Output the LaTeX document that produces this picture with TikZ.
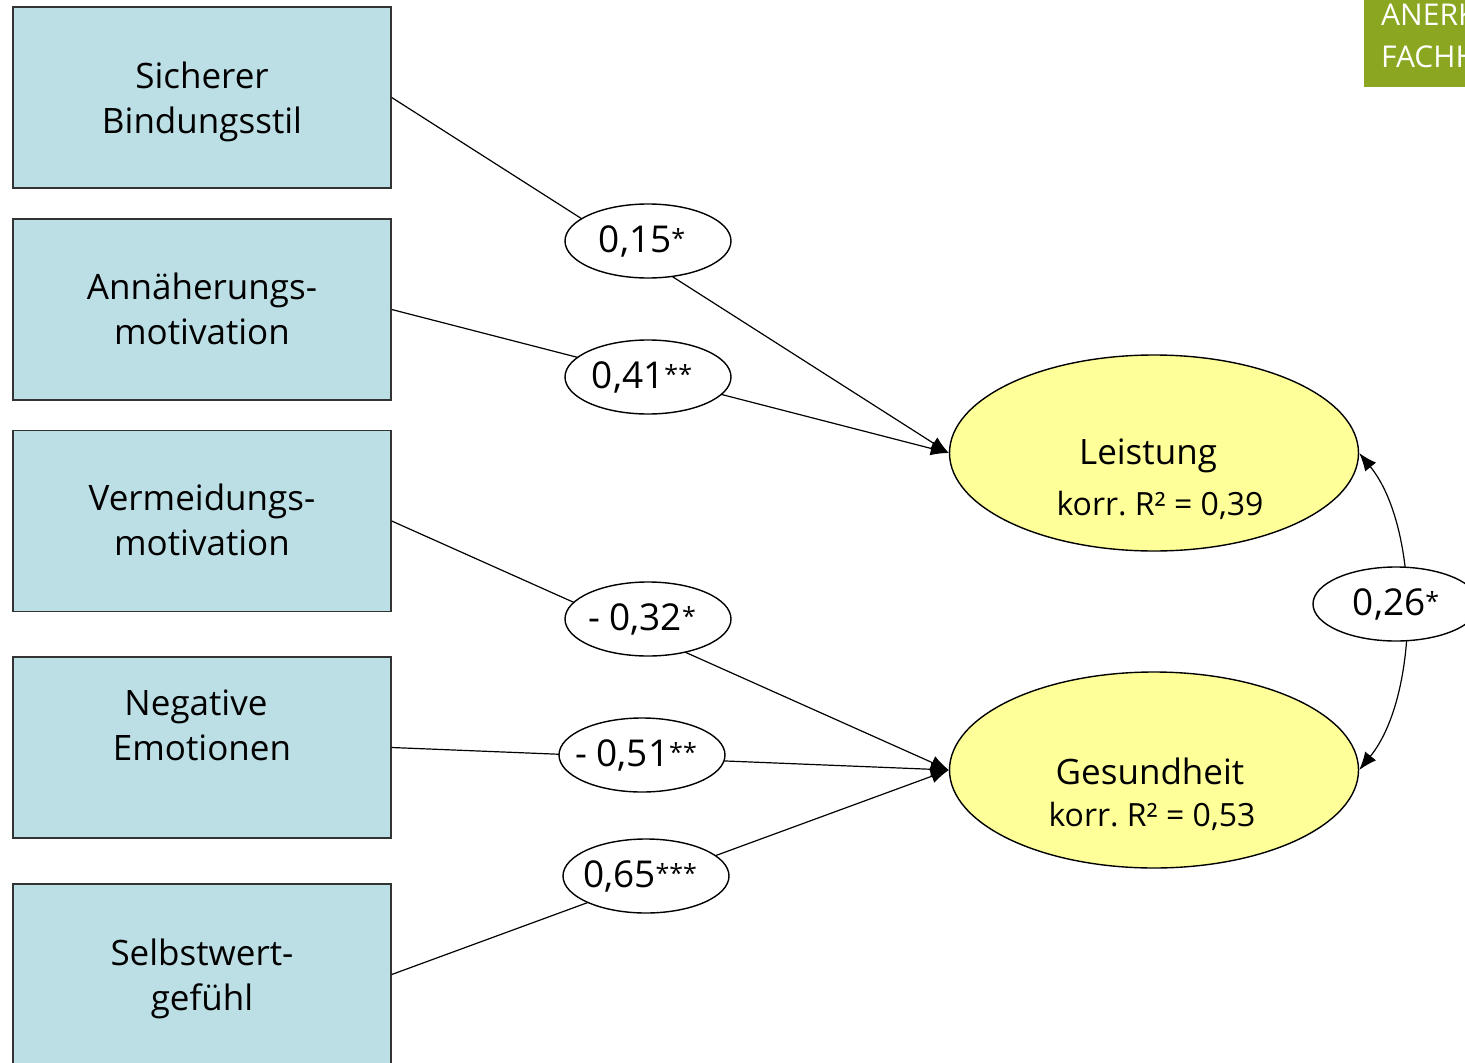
\documentclass[tikz,border=0pt]{standalone}
\usepackage{fontspec}
\setmainfont{Open Sans}
\usetikzlibrary{positioning,arrows.meta,shapes.geometric}
\definecolor{boxfill}{HTML}{BCDFE5}
\definecolor{latfill}{HTML}{FFFF99}
\definecolor{logo}{HTML}{8BA620}
% significance stars, small and raised
\newcommand{\sig}[1]{\raisebox{5pt}{\fontsize{25}{25}\selectfont#1}}
% coefficient text that never widens its ellipse; sits a little left of centre
\newcommand{\cval}[3][12pt]{\makebox[0pt][c]{#2\sig{#3}\hspace*{#1}}}

\begin{document}
\begin{tikzpicture}[x=1pt,y=-1pt,font=\fontsize{35}{45}\selectfont,
    >={Latex[length=18pt,width=14pt]},
    predbox/.style={draw=black!80,fill=boxfill,line width=1.4pt,minimum width=378pt,
      minimum height=181pt,inner sep=0pt},
    boxlab/.style={align=center,yshift=-4pt},
    latent/.style={ellipse,draw,fill=latfill,line width=1.4pt,minimum width=409pt,
      minimum height=196pt,inner sep=0pt},
    rsq/.style={font=\fontsize{32}{40}\selectfont},
    coef/.style={ellipse,draw,fill=white,line width=1.4pt,minimum width=166pt,
      minimum height=74pt,inner sep=0pt,font=\fontsize{37}{40}\selectfont},
    effect/.style={line width=1.2pt,->}]
    % frame is the pixel grid of the slide, y down
    \useasboundingbox (0,0) rectangle (1465,1063);
    \clip (0,0) rectangle (1465,1063);

    % the predictors
    \node[predbox] (bind) at (202,97.5) {};
    \node[predbox] (annae) at (202,309.5) {};
    \node[predbox] (verm) at (202,521) {};
    \node[predbox] (negemo) at (202,747.5) {};
    \node[predbox] (selbst) at (202,974.5) {};
    % labels without descenders on the last line sit a bit higher by hand
    \node[boxlab] (bindlab) at (bind) {Sicherer\\Bindungsstil};
    \node[boxlab] (annaelab) at (202,304.5) {Annäherungs-\\motivation};
    \node[boxlab] (vermlab) at (202,516) {Vermeidungs-\\motivation};
    \node[boxlab] (negemolab) at (202,721) {Negative\hspace*{12pt}\\Emotionen};
    \node[boxlab] (selbstlab) at (selbst) {Selbstwert-\\gefühl};

    % the outcomes
    \node[latent] (leist) at (1154,453) {};
    \node[latent] (gesund) at (1154,770) {};
    \node (leistlab) at (1148,456) {Leistung};
    \node[rsq] (leistrsq) at (1160,505) {korr.\ R² = 0,39};
    \node (gesundlab) at (1150,771) {Gesundheit};
    \node[rsq] (gesundrsq) at (1152,816) {korr.\ R² = 0,53};

    % paths first, the coefficients sit on top of them
    \draw[effect] (bind.east) -- (leist.west);
    \draw[effect] (annae.east) -- (leist.west);
    \draw[effect] (verm.east) -- (gesund.west);
    \draw[effect] (negemo.east) -- (gesund.west);
    \draw[effect] (selbst.east) -- (gesund.west);
    \draw[line width=1.2pt,<->] (leist.east) .. controls +(61,75) and +(61,-75) .. (gesund.east);

    \node[coef] (cbind) at (648,241) {\cval{0,15}{*}};
    \node[coef] (cannae) at (648,377) {\cval{0,41}{**}};
    \node[coef] (cverm) at (648,619) {\cval{- 0,32}{*}};
    \node[coef] (cnegemo) at (642,755) {\cval{- 0,51}{**}};
    \node[coef] (cselbst) at (646,876) {\cval{0,65}{***}};
    \node[coef] (ccorr) at (1396,604) {\cval[0pt]{0,26}{*}};

    % logo corner, cut by the frame
    \fill[logo] (1364,0) rectangle (1470,87);
    \node[text=white,anchor=base west,inner sep=0pt,font=\fontsize{30}{36}\selectfont] (logoa) at (1381,25) {ANERK};
    \node[text=white,anchor=base west,inner sep=0pt,font=\fontsize{30}{36}\selectfont] (logob) at (1381,67) {FACHH};
\end{tikzpicture}
\end{document}
